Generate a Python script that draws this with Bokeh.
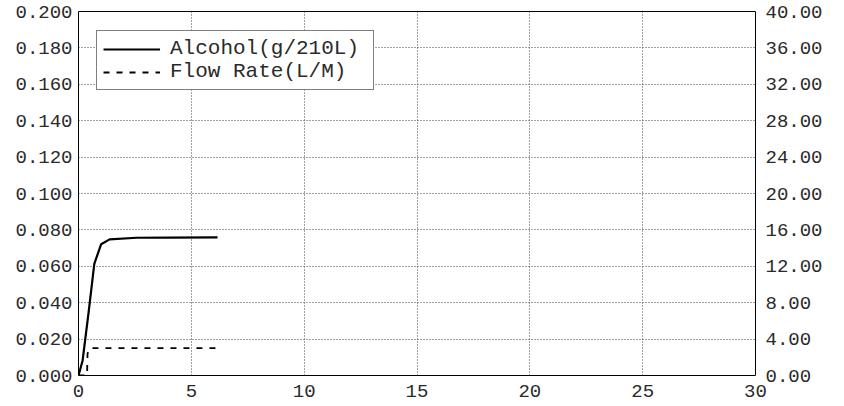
from bokeh.plotting import figure
from bokeh.models import Range1d, LinearAxis, FixedTicker, NumeralTickFormatter, Legend, LegendItem
from bokeh.embed import file_html
from bokeh.resources import INLINE

# Data
time_alc = [0.0, 0.18, 0.45, 0.70, 1.0, 1.38, 2.57, 4.0, 6.16]
alcohol = [0.0, 0.0081, 0.035, 0.0613, 0.0721, 0.0748, 0.0757, 0.0758, 0.0759]
time_flow = [0.0, 0.38, 0.40, 0.5, 2.0, 4.0, 6.2]
flow = [0.0, 0.0, 2.4, 3.0, 3.0, 3.0, 3.0]
x_ticks = [0, 5, 10, 15, 20, 25, 30]
y_ticks = [0.0, 0.02, 0.04, 0.06, 0.08, 0.10, 0.12, 0.14, 0.16, 0.18, 0.20]
y2_ticks = [0, 4, 8, 12, 16, 20, 24, 28, 32, 36, 40]
labels = ["Alcohol(g/210L)", "Flow Rate(L/M)"]

FONT = "Liberation Mono"

p = figure(width=844, height=406, output_backend="svg", toolbar_location=None,
           x_range=Range1d(0, 30), y_range=Range1d(0, 0.2),
           min_border_left=78, min_border_right=89, min_border_top=11, min_border_bottom=31)
p.extra_y_ranges = {"flow": Range1d(0, 40)}

p.background_fill_color = "white"
p.border_fill_color = "white"
p.outline_line_color = "black"
p.outline_line_width = 1

r1 = p.line(time_alc, alcohol, line_color="black", line_width=2.2)
r2 = p.line(time_flow, flow, line_color="black", line_width=1.8, line_dash="6 7", y_range_name="flow")

yr = LinearAxis(y_range_name="flow")
p.add_layout(yr, "right")

for ax in [p.xaxis[0], p.yaxis[0], yr]:
    ax.axis_line_color = None
    ax.major_tick_out = 0
    ax.major_tick_in = 0
    ax.minor_tick_out = 0
    ax.minor_tick_in = 0
    ax.major_label_text_font = FONT
    ax.major_label_text_font_size = "19px"
    ax.major_label_text_color = "#2a2a2a"

p.xaxis[0].ticker = FixedTicker(ticks=x_ticks)
p.xaxis[0].major_label_standoff = 9
p.yaxis[0].ticker = FixedTicker(ticks=y_ticks)
p.yaxis[0].formatter = NumeralTickFormatter(format="0.000")
p.yaxis[0].major_label_standoff = 6
yr.ticker = FixedTicker(ticks=y2_ticks)
yr.formatter = NumeralTickFormatter(format="0.00")
yr.major_label_standoff = 10

p.xgrid.ticker = FixedTicker(ticks=x_ticks)
p.ygrid.ticker = FixedTicker(ticks=y_ticks)
for g in [p.xgrid[0], p.ygrid[0]]:
    g.grid_line_color = "#444444"
    g.grid_line_dash = "1 2"
    g.grid_line_width = 1

legend = Legend(items=[LegendItem(label=labels[0], renderers=[r1]),
                       LegendItem(label=labels[1], renderers=[r2])],
                location=(18, 285))
legend.label_text_font = FONT
legend.label_text_font_size = "21px"
legend.label_text_color = "#2a2a2a"
legend.border_line_color = "black"
legend.border_line_width = 1
legend.background_fill_color = "white"
legend.background_fill_alpha = 1
legend.padding = 6
legend.spacing = 0
legend.margin = 0
legend.glyph_width = 57
legend.label_standoff = 10
legend.label_height = 20
legend.label_width = 197
p.add_layout(legend, "center")

open("out.html", "w").write(file_html(p, INLINE))
